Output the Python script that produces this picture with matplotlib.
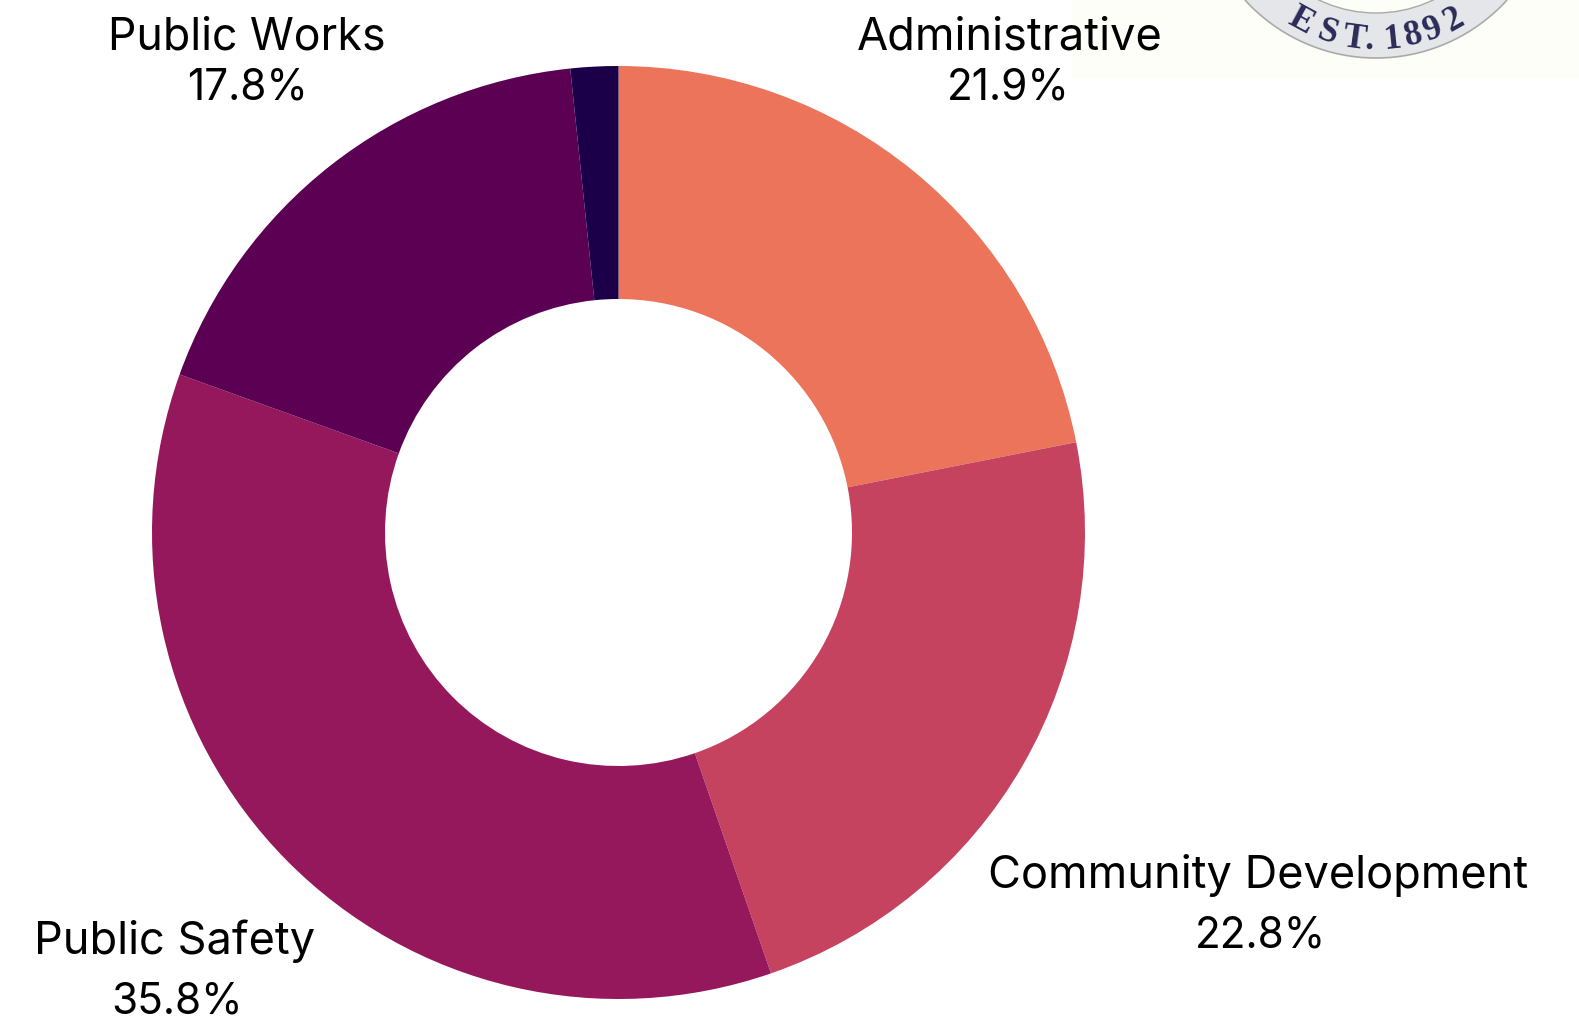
import numpy as np
import matplotlib
matplotlib.use("Agg")
import matplotlib.pyplot as plt
from matplotlib.patches import Circle, Rectangle

# -----------------------------------------------------
# DATA
# -----------------------------------------------------

categories = ["Administrative", "Community Development", "Public Safety", "Public Works", "Other"]
shares = [21.9, 22.8, 35.8, 17.85, 1.65]
colors = ["#EC745B", "#C6435F", "#95185C", "#5C0053", "#1B0049"]
label_names = ["Administrative", "Community Development", "Public Safety", "Public Works"]
label_values = ["21.9%", "22.8%", "35.8%", "17.8%"]
seal_letters = ["E", "S", "T", ".", "1", "8", "9", "2"]

W, H = 1579, 1020

plt.rcParams["font.family"] = ["Inter", "DejaVu Sans"]

fig = plt.figure(figsize=(W / 100, H / 100), dpi=100, facecolor="white")
ax = fig.add_axes([0, 0, 1, 1])
ax.set_xlim(0, W)
ax.set_ylim(H, 0)
ax.axis("off")

# -----------------------------------------------------
# SEAL IN THE TOP RIGHT CORNER
# -----------------------------------------------------

ax.add_patch(Rectangle((1072, 0), W - 1072, 79, facecolor="#FDFEF8", edgecolor="none", zorder=0))
seal_x, seal_y = 1376, -118
ax.add_patch(Circle((seal_x, seal_y), 177, facecolor="#E4E6EA", edgecolor="#A9ABA8", lw=1.2, zorder=1))
ax.add_patch(Circle((seal_x, seal_y), 132, facecolor="#FDFEF8", edgecolor="#A9ABA8", lw=1.0, zorder=1))

letter_angles = [28.4, 18.1, 7.8, 2.4, -5.9, -13.7, -21.1, -29.4]
for ch, a in zip(seal_letters, letter_angles):
    t = np.radians(a)
    ax.text(seal_x - 167 * np.sin(t), seal_y + 167 * np.cos(t), ch, rotation=-a, rotation_mode="anchor",
            ha="center", va="baseline", fontsize=25.5, color="#2B2B57",
            family="Liberation Serif", weight="bold", zorder=2)

# -----------------------------------------------------
# DONUT
# -----------------------------------------------------

# pie needs an upright y axis, so it gets its own axes on the same pixels
pie_ax = fig.add_axes([0, 0, 1, 1])
pie_ax.pie(
    shares,
    colors=colors,
    radius=466.5,
    center=(618.5, H - 533.5),
    startangle=90,
    counterclock=False,
    frame=True,
    wedgeprops={"width": 233, "edgecolor": "none"},
)
pie_ax.set_xlim(0, W)
pie_ax.set_ylim(0, H)
pie_ax.set_aspect("auto")
pie_ax.axis("off")

# -----------------------------------------------------
# LABELS
# -----------------------------------------------------

name_x = [1009.5, 1258.5, 175, 246.5]
name_y = [49, 888, 954, 49]
name_size = [32.6, 32.5, 32.5, 32.1]
value_x = [1008.5, 1260, 177, 247.5]
value_y = [100, 948, 1014, 100]
for name, value, x1, x2, y1, y2, s in zip(label_names, label_values, name_x, value_x, name_y, value_y, name_size):
    ax.text(x1, y1, name, ha="center", va="baseline", fontsize=s, color="black", zorder=5)
    ax.text(x2, y2, value, ha="center", va="baseline", fontsize=30.5, color="black", zorder=5)

fig.savefig("out.png", dpi=100)
